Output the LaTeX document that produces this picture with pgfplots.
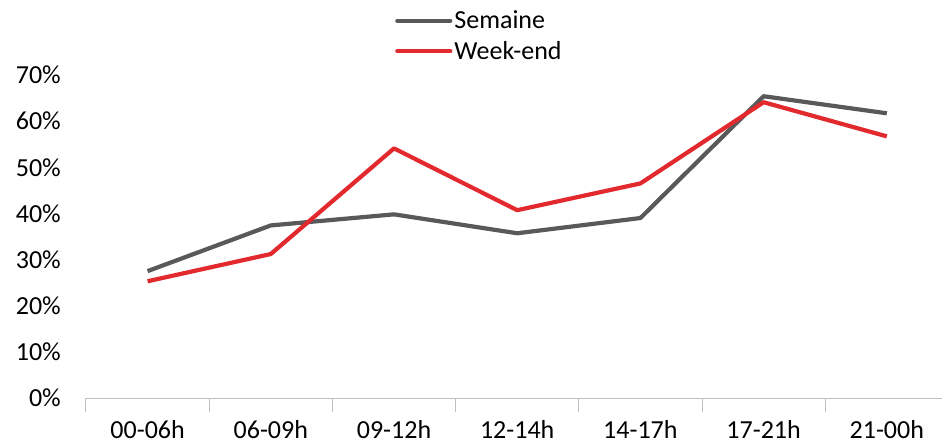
\documentclass[border=0pt]{standalone}
\usepackage{fontspec}
\setmainfont{Carlito}
\usepackage{pgfplots}
\pgfplotsset{compat=1.18}
\definecolor{sgray}{HTML}{595959}
\definecolor{wred}{HTML}{E2292E}
\definecolor{axgray}{HTML}{BFBFBF}
\begin{document}
\begin{tikzpicture}
\useasboundingbox (-86pt,-46pt) rectangle (856pt,398pt);
\begin{axis}[
  anchor=south west, at={(0pt,0pt)},
  scale only axis, width=856pt, height=323pt,
  xmin=-0.5, xmax=6.448, ymin=0, ymax=70,
  axis x line=bottom, axis y line=left,
  x axis line style={draw=axgray, line width=1pt, -},
  y axis line style={draw=none},
  xtick={0,...,6},
  xticklabels={00-06h,06-09h,09-12h,12-14h,14-17h,17-21h,21-00h},
  minor xtick={-0.5,0.5,1.5,2.5,3.5,4.5,5.5},
  major tick length=0pt,
  minor tick length=14pt,
  tick align=outside,
  minor tick style={draw=axgray, line width=1pt},
  ytick={0,10,...,70},
  yticklabels={0\%,10\%,20\%,30\%,40\%,50\%,60\%,70\%},
  tick label style={font=\fontsize{26}{30}\selectfont},
  xticklabel style={anchor=north, inner sep=0pt},
  xticklabel shift=22pt,
  yticklabel style={anchor=east, inner sep=0pt},
  yticklabel shift=25pt,
  clip=false,
  legend style={draw=none, fill=none, at={(axis description cs:0.361,1.205)}, anchor=north west,
    font=\fontsize{26}{30}\selectfont, inner sep=0pt, row sep=7pt,
    legend cell align=left},
  legend image code/.code={\draw[#1, line cap=round] (0pt,0pt) -- (53pt,0pt);},
  every axis plot/.append style={line width=4.2pt, line join=round},
]
\addplot[sgray, mark=none] coordinates {(0,27.5) (1,37.4) (2,39.8) (3,35.7) (4,39.0) (5,65.4) (6,61.7)};
\addlegendentry{Semaine}
\addplot[wred, mark=none] coordinates {(0,25.3) (1,31.2) (2,54.1) (3,40.7) (4,46.5) (5,64.1) (6,56.7)};
\addlegendentry{Week-end}
\end{axis}
\end{tikzpicture}
\end{document}
